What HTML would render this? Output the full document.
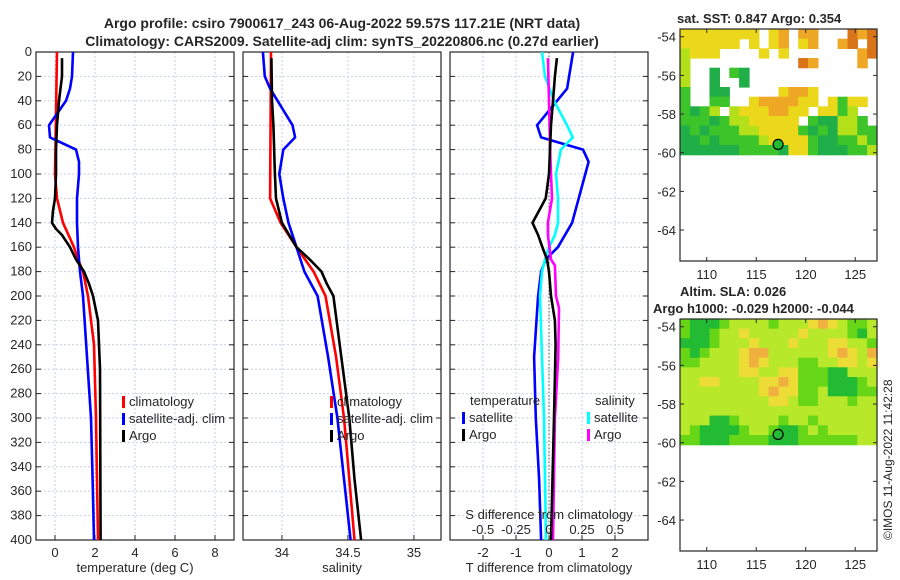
<!DOCTYPE html>
<html><head><meta charset="utf-8"><style>
body{margin:0;background:#fff;}
svg{display:block;font-family:"Liberation Sans","DejaVu Sans",sans-serif;}
text{fill:#262626;}
</style></head><body>
<svg id="fig" width="900" height="580" viewBox="0 0 900 580">
<text x="342" y="28" text-anchor="middle" font-size="14" font-weight="bold" fill="#000">Argo profile: csiro 7900617_243 06-Aug-2022 59.57S 117.21E (NRT data)</text>
<text x="342" y="46" text-anchor="middle" font-size="14" font-weight="bold" fill="#000">Climatology: CARS2009. Satellite-adj clim: synTS_20220806.nc (0.27d earlier)</text>
<g id="g1"></g><g id="g2"></g><g id="g3"></g><g id="m1"></g><g id="m2"></g>
<text x="677" y="23" font-size="13" font-weight="bold" fill="#000">sat. SST: 0.847 Argo: 0.354</text>
<text x="680" y="296" font-size="13" font-weight="bold" fill="#000">Altim. SLA: 0.026</text>
<text x="653" y="313" font-size="13" font-weight="bold" fill="#000">Argo h1000: -0.029 h2000: -0.044</text>
<text transform="translate(892,540) rotate(-90)" font-size="12">©IMOS 11-Aug-2022 11:42:28</text>
</svg>
<script>
// ---------- data ----------
const tClimDepth=[0,100,120,140,160,170,180,200,240,300,400];
const tClimVal=[0.1,0.0,0.1,0.4,0.95,1.15,1.4,1.65,1.95,2.05,2.15];
const tSatDepth=[0,20,30,40,60,70,80,90,100,120,140,160,180,200,250,300,350,400];
const tSatVal=[0.9,0.85,0.75,0.55,-0.3,-0.25,1.05,1.2,1.2,1.1,1.1,1.15,1.25,1.4,1.6,1.8,1.88,1.95];
const tArgoDepth=[5,20,40,60,80,100,120,130,140,145,150,160,170,180,190,200,220,260,400];
const tArgoVal=[0.35,0.35,0.2,0.1,0.05,0.05,0,-0.1,-0.15,0.05,0.35,0.75,1.05,1.45,1.7,1.9,2.15,2.25,2.28];
const sClimDepth=[0,120,140,160,180,200,250,300,350,400];
const sClimVal=[33.917,33.91,33.99,34.11,34.24,34.33,34.41,34.47,34.51,34.55];
const sSatDepth=[0,20,30,60,70,80,100,120,140,160,180,200,250,300,350,400];
const sSatVal=[33.856,33.87,33.91,34.08,34.1,34.01,33.98,34.01,34.05,34.11,34.17,34.27,34.35,34.42,34.47,34.52];
const sArgoDepth=[5,40,60,100,120,140,160,170,180,190,200,250,300,350,400];
const sArgoVal=[33.92,33.925,33.935,33.947,33.955,34.0,34.11,34.21,34.3,34.34,34.39,34.45,34.51,34.55,34.6];
const dTSatDepth=[0,30,45,60,70,80,90,100,120,140,160,170,180,200,250,300,350,400];
const dTSatVal=[0.73,0.55,0.09,-0.36,-0.24,1.03,1.2,1.1,0.9,0.7,0.27,-0.1,-0.24,-0.33,-0.45,-0.4,-0.3,-0.24];
const dTArgoDepth=[5,20,40,60,80,100,120,130,140,150,160,170,180,200,220,240,300,400];
const dTArgoVal=[0.24,0.18,0.12,0.06,0.03,0,-0.1,-0.3,-0.5,-0.33,-0.2,-0.06,0,0.06,0.18,0.2,0.15,0.06];
const dSSatDepth=[0,20,40,60,70,80,100,120,140,150,160,170,180,200,250,300,350,400];
const dSSatVal=[-0.053,-0.03,0.038,0.136,0.18,0.09,0.053,0.068,0.068,0.045,0,-0.03,-0.053,-0.068,-0.053,-0.038,-0.03,-0.023];
const dSArgoDepth=[5,40,80,100,120,140,150,170,175,200,210,250,300,400];
const dSArgoVal=[-0.008,0,0.008,0.015,0.023,-0.008,-0.008,0.015,0.045,0.053,0.076,0.07,0.045,0.03];
const depthTicks=[0,20,40,60,80,100,120,140,160,180,200,220,240,260,280,300,320,340,360,380,400];
const tTicks=[0,2,4,6,8];
const sTicks=[34,34.5,35];
const dTTicks=[-2,-1,0,1,2];
const dSTickLabels=["-0.5","-0.25","0","0.25","0.5"];
const dSTicks=[-0.5,-0.25,0,0.25,0.5];
const lonTicks=[110,115,120,125];
const latTicks=[-54,-56,-58,-60,-62,-64];
const sstRows=[
"YYYYYYYY.YO.OO...ROR","YYYYYY.Y.YO.YO..OR.R","yYYY....Y.Y.......OR","y...........RO....O.",
"y..G.gG.............","y..G..G.............","g..GG.....YOOY......","g..gg..YOOOOYY.YgYY.",
"gGgy.yYYYOOYY.YYgy..","gggGgyyYYYYY.gGGyyg.","GgGgggyyYYYYgGgGyygg","GGgGggggyYYYYgGGggyg","GGGGGGggggGYYgGGGggy"];
const slaRows=[
"gGGGgyyyygyyyYOYyggy","gGGgyyYyyyyyYyyyygGy","GGGgyyyYyyyYyyyYYyyg","gGgyyyYOOyyyyyyYOYyO",
"ggyyyyYOYyyyggyyYYyY","yyyyyyYYyyYYgggGGyyy","yyYYyyyyYYOYgggGGGgy","yyyyyyyyYOYYggyGGGgg",
"yyyyyyyyyYYyggyyygyy","yyyyyyyyyyyyyyyyyyyy","yyyGGgyyyygyygyyyyyy","ygGGGGgyygGGgygyyyyy","ggGGGggggGGGggggggyy"];
const argoLon=117.21, argoLat=-59.57;

// ---------- helpers ----------
const NS="http://www.w3.org/2000/svg";
function mk(p,tag,at,txt){const e=document.createElementNS(NS,tag);for(const k in at)e.setAttribute(k,at[k]);if(txt!==undefined)e.textContent=txt;p.appendChild(e);return e;}
const Y0=52,Y1=540;
const yD=d=>Y0+(Y1-Y0)*d/400;

function panel(g,x0,x1,xmin,xmax,ticks,labels,showY){
  const xs=v=>x0+(x1-x0)*(v-xmin)/(xmax-xmin);
  depthTicks.forEach(d=>{
    let l=mk(g,'line',{x1:x0,x2:x1,y1:yD(d),y2:yD(d),stroke:'#c8cfe6','stroke-dasharray':'2,2','stroke-width':1});
    
    mk(g,'line',{x1:x0,x2:x0+5,y1:yD(d),y2:yD(d),stroke:'#262626'});
    mk(g,'line',{x1:x1-5,x2:x1,y1:yD(d),y2:yD(d),stroke:'#262626'});
    if(showY){let t=mk(g,'text',{x:x0-4,y:yD(d)+4,'text-anchor':'end','font-size':13},String(d));
      }
  });
  ticks.forEach((v,i)=>{
    let l=mk(g,'line',{x1:xs(v),x2:xs(v),y1:Y0,y2:Y1,stroke:'#c8cfe6','stroke-dasharray':'2,2'});
    
    mk(g,'line',{x1:xs(v),x2:xs(v),y1:Y1-5,y2:Y1,stroke:'#262626'});
    let t=mk(g,'text',{x:xs(v),y:Y1+17,'text-anchor':'middle','font-size':13},labels[i]);
    
  });
  let r=mk(g,'rect',{x:x0,y:Y0,width:x1-x0,height:Y1-Y0,fill:'none',stroke:'#262626','stroke-width':1.2});
  
  return xs;
}
function line(g,xs,dep,val,col,name){
  const p=dep.map((d,i)=>xs(val[i]).toFixed(1)+','+yD(d).toFixed(1)).join(' ');
  let e=mk(g,'polyline',{points:p,fill:'none',stroke:col,'stroke-width':2.6,'stroke-linejoin':'round'});
  
}
function legend(g,x,y,items){
  items.forEach((it,i)=>{
    mk(g,'rect',{x:x,y:y+i*17-10,width:3,height:12,fill:it[1]});
    let t=mk(g,'text',{x:x+7,y:y+i*17,'font-size':13},it[0]);
    
  });
}

// panel 1 temperature
const g1=document.getElementById('g1');
const xT=panel(g1,36,234,-0.95,8.95,tTicks,tTicks.map(String),true);
line(g1,xT,tClimDepth,tClimVal,'#ff0000','temp-climatology-line');
line(g1,xT,tSatDepth,tSatVal,'#0000ff','temp-satellite-line');
line(g1,xT,tArgoDepth,tArgoVal,'#000000','temp-argo-line');
legend(g1,122,406,[['climatology','#ff0000'],['satellite-adj. clim','#0000ff'],['Argo','#000']]);
let a=mk(g1,'text',{x:135,y:572,'text-anchor':'middle','font-size':13},'temperature (deg C)');


// panel 2 salinity
const g2=document.getElementById('g2');
const xS=panel(g2,243,441,33.705,35.205,sTicks,sTicks.map(String),false);
line(g2,xS,sClimDepth,sClimVal,'#ff0000','sal-climatology-line');
line(g2,xS,sSatDepth,sSatVal,'#0000ff','sal-satellite-line');
line(g2,xS,sArgoDepth,sArgoVal,'#000000','sal-argo-line');
legend(g2,330,406,[['climatology','#ff0000'],['satellite-adj. clim','#0000ff'],['Argo','#000']]);
a=mk(g2,'text',{x:342,y:572,'text-anchor':'middle','font-size':13},'salinity');


// panel 3 differences
const g3=document.getElementById('g3');
const xd=panel(g3,450,648,-3,3,dTTicks,dTTicks.map(String),false);
const xdS=v=>xd(v*4);
let z=mk(g3,'line',{x1:xd(0),x2:xd(0),y1:Y0,y2:Y1,stroke:'#555','stroke-dasharray':'1.5,2'});

line(g3,xd,dTSatDepth,dTSatVal,'#0000ff','dT-satellite-line');
line(g3,xdS,dSSatDepth,dSSatVal,'#00ffff','dS-satellite-line');
line(g3,xdS,dSArgoDepth,dSArgoVal,'#ff00ff','dS-argo-line');
line(g3,xd,dTArgoDepth,dTArgoVal,'#000000','dT-argo-line');
a=mk(g3,'text',{x:470,y:405,'font-size':13},'temperature');
a=mk(g3,'text',{x:595,y:405,'font-size':13},'salinity');
legend(g3,462,422,[['satellite','#0000ff'],['Argo','#000']]);
legend(g3,587,422,[['satellite','#00ffff'],['Argo','#ff00ff']]);
a=mk(g3,'text',{x:549,y:519,'text-anchor':'middle','font-size':13},'S difference from climatology');

dSTicks.forEach((v,i)=>{let t=mk(g3,'text',{x:xdS(v),y:534,'text-anchor':'middle','font-size':13},dSTickLabels[i]);
  });
a=mk(g3,'text',{x:549,y:572,'text-anchor':'middle','font-size':13},'T difference from climatology');


// maps
function map(g,y0,rows,cmap,name){
  const X0=680,X1=877,H=232;
  const lonMin=107.3,lonMax=127.2;
  const lx=v=>X0+(X1-X0)*(v-lonMin)/(lonMax-lonMin);
  const latTop=-53.6,py=19.33; // px per degree
  const ly=v=>y0+(latTop-v)*py;
  const cw=(lonMax-lonMin)/20, rh=0.5;
  rows.forEach((r,ri)=>{[...r].forEach((c,ci)=>{
    if(c==='.')return;
    let e=mk(g,'rect',{x:lx(lonMin+ci*cw).toFixed(1),y:ly(latTop-ri*rh).toFixed(1),width:(cw*(X1-X0)/(lonMax-lonMin)+0.6).toFixed(1),height:(rh*py+0.6).toFixed(1),fill:cmap[c]});
    
  });});
  latTicks.forEach(v=>{
    mk(g,'line',{x1:X0,x2:X0+4,y1:ly(v),y2:ly(v),stroke:'#262626'});
    mk(g,'line',{x1:X1-4,x2:X1,y1:ly(v),y2:ly(v),stroke:'#262626'});
    let t=mk(g,'text',{x:X0-4,y:ly(v)+5,'text-anchor':'end','font-size':13},String(v));
    
  });
  lonTicks.forEach(v=>{
    mk(g,'line',{x1:lx(v),x2:lx(v),y1:y0+H-4,y2:y0+H,stroke:'#262626'});
    mk(g,'line',{x1:lx(v),x2:lx(v),y1:y0,y2:y0+4,stroke:'#262626'});
    let t=mk(g,'text',{x:lx(v),y:y0+H+18,'text-anchor':'middle','font-size':13},String(v));
    
  });
  let c=mk(g,'circle',{cx:lx(argoLon),cy:ly(argoLat),r:5,fill:'#22bb33',stroke:'#000','stroke-width':1.2});
  
  let r=mk(g,'rect',{x:X0,y:y0,width:X1-X0,height:H,fill:'none',stroke:'#262626','stroke-width':1.2});
  
}
map(document.getElementById('m1'),29,sstRows,{G:'#1fae48',g:'#3cc42a',y:'#b4e01a',Y:'#ecd81a',O:'#eea825',R:'#d9741a'},'sst-map');
map(document.getElementById('m2'),319,slaRows,{G:'#22bb33',g:'#66d616',y:'#b8e82a',Y:'#ecdc35',O:'#f0b040'},'sla-map');
</script>
</body></html>
